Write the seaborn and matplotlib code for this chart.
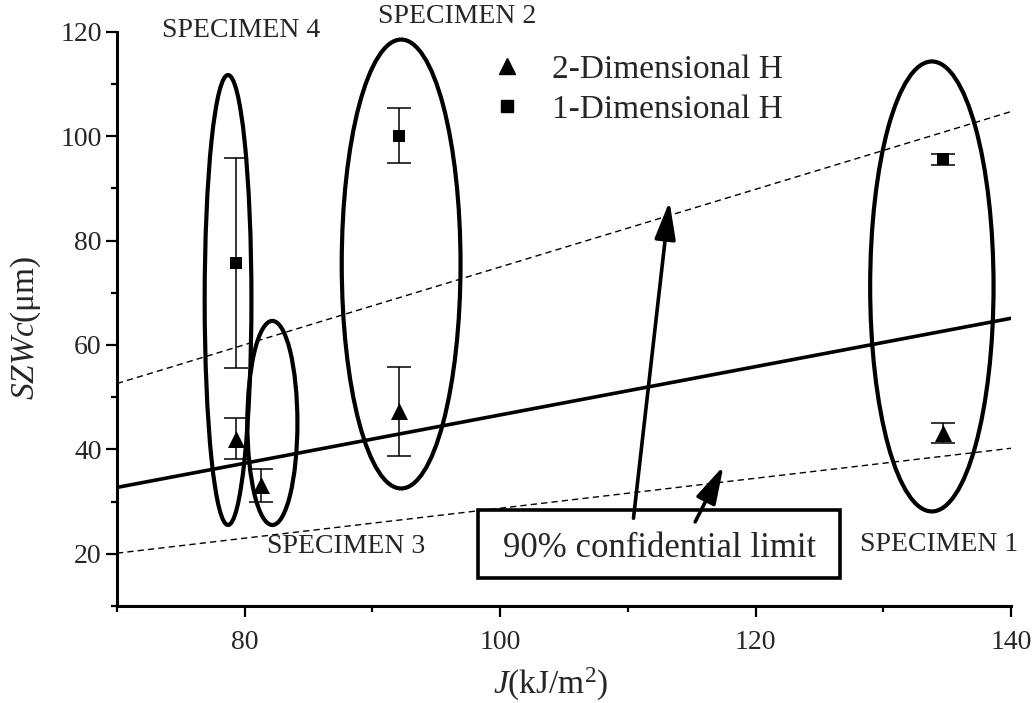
import numpy as np
import pandas as pd
import matplotlib
matplotlib.use("Agg")
import matplotlib.pyplot as plt
import seaborn as sns
from matplotlib.patches import Ellipse, Rectangle
from matplotlib.lines import Line2D

# ---------------- data ----------------
# 1-Dimensional H (squares)
h1_x = [79.3, 92.1, 134.7]
h1_y = [75.7, 100.1, 95.6]
h1_err = [20.1, 5.3, 1.05]
# 2-Dimensional H (triangles)
h2_x = [79.3, 81.3, 92.1, 134.7]
h2_y = [42.0, 33.1, 47.3, 43.2]
h2_err = [3.95, 3.1, 8.5, 1.9]

# regression line and 90% confidence limits (end points)
line_x = [70, 140]
fit_y = [32.7, 65.1]
upper_y = [52.6, 104.7]
lower_y = [20.1, 40.2]

# specimen groups: centre x, centre y, width, height
spec_names = ["SPECIMEN 1", "SPECIMEN 2", "SPECIMEN 3", "SPECIMEN 4"]
ell_cx = [133.8, 92.25, 82.17, 78.7]
ell_cy = [71.2, 75.5, 45.05, 68.6]
ell_w = [9.66, 9.3, 3.92, 3.66]
ell_h = [86.2, 86.0, 39.1, 86.2]
lab_x = [134.36, 96.67, 87.93, 79.73]
lab_y = [20.5, 121.6, 20.08, 119.0]

x_ticks = [80, 100, 120, 140]
y_ticks = [20, 40, 60, 80, 100, 120]

# ---------------- style ----------------
sns.set_style("ticks")
plt.rcParams["font.family"] = ["Liberation Serif", "DejaVu Serif"]
plt.rcParams["mathtext.fontset"] = "custom"
plt.rcParams["mathtext.rm"] = "Liberation Serif"
plt.rcParams["mathtext.it"] = "Liberation Serif:italic"

fig = plt.figure(figsize=(10.32, 7.03), dpi=100)
ax = fig.add_axes([0.1133, 0.1381, 0.8664, 0.8168])

# regression line + confidence limits
df_lines = pd.DataFrame({"x": line_x, "fit": fit_y, "up": upper_y, "lo": lower_y})
sns.lineplot(data=df_lines, x="x", y="fit", ax=ax, color="black", lw=2.6, zorder=2)
sns.lineplot(data=df_lines, x="x", y="up", ax=ax, color="black", lw=1.0,
             linestyle=(0, (4.5, 3)), zorder=2)
sns.lineplot(data=df_lines, x="x", y="lo", ax=ax, color="black", lw=1.0,
             linestyle=(0, (4.5, 3)), zorder=2)

# error bars
ax.errorbar(h1_x, h1_y, yerr=h1_err, fmt="none", ecolor="black",
            elinewidth=1.1, capsize=8.5, capthick=1.1, zorder=3)
ax.errorbar(h2_x, h2_y, yerr=h2_err, fmt="none", ecolor="black",
            elinewidth=1.1, capsize=8.5, capthick=1.1, zorder=3)

# points
df1 = pd.DataFrame({"x": h1_x, "y": h1_y})
df2 = pd.DataFrame({"x": h2_x, "y": h2_y})
sns.scatterplot(data=df2, x="x", y="y", ax=ax, marker="^", s=150,
                color="black", edgecolor="black", linewidth=0, zorder=4, legend=False)
sns.scatterplot(data=df1, x="x", y="y", ax=ax, marker="s", s=64,
                color="black", edgecolor="black", linewidth=0, zorder=4, legend=False)

# ellipses and labels
for cx, cy, w, h in zip(ell_cx, ell_cy, ell_w, ell_h):
    ax.add_patch(Ellipse((cx, cy), w, h, fill=False, ec="black", lw=3.0, zorder=5))
for name, lx, ly in zip(spec_names, lab_x, lab_y):
    ax.text(lx, ly, name, ha="center", va="baseline", fontsize=20, clip_on=False)

# confidence-limit box and arrows
ax.add_patch(Rectangle((98.3, 15.4), 28.3, 13.0, fc="white", ec="black", lw=2.6, zorder=6))
ax.text(112.45, 19.3, "90% confidential limit", ha="center", va="baseline",
        fontsize=25, zorder=7)
arrow_kw = dict(arrowstyle="-|>,head_length=1.15,head_width=0.32", color="black",
                lw=2.6, mutation_scale=20, shrinkA=0, shrinkB=0)
ax.annotate("", xy=(113.26, 87.5), xytext=(110.44, 26.8),
            arrowprops=arrow_kw, zorder=8)
ax.annotate("", xy=(117.49, 36.8), xytext=(115.27, 26.1),
            arrowprops=arrow_kw, zorder=8)

# axes
ax.set_xlim(70, 140)
ax.set_ylim(10, 120)
ax.set_xticks(x_ticks)
ax.set_yticks(y_ticks)
ax.set_xticks([70, 90, 110, 130], minor=True)
ax.set_yticks([10, 30, 50, 70, 90, 110], minor=True)
ax.tick_params(which="major", length=8, width=1.6, labelsize=20, color="black")
ax.tick_params(which="minor", length=4, width=1.6, color="black")
ax.tick_params(axis="x", which="major", pad=9)
ax.tick_params(axis="y", which="major", pad=3)
sns.despine(ax=ax)
for sp in ("left", "bottom"):
    ax.spines[sp].set_linewidth(2.2)
    ax.spines[sp].set_color("black")
ax.grid(False)

ax.set_xlabel("$J$(kJ/m$^2$)", fontsize=24)
ax.set_ylabel("$SZWc$(μm)", fontsize=24)
ax.xaxis.set_label_coords(0.4855, -0.105)
ax.yaxis.set_label_coords(-0.083, 0.484)

# legend
handles = [Line2D([], [], marker="^", color="black", ls="none", markersize=12),
           Line2D([], [], marker="s", color="black", ls="none", markersize=8)]
fig.legend(handles, ["2-Dimensional H", "1-Dimensional H"], loc="upper left",
           bbox_to_anchor=(490 / 1032, 1 - 54 / 703), frameon=False, fontsize=24,
           handlelength=1.0, handletextpad=0.85, labelspacing=0.3,
           borderpad=0, borderaxespad=0)

fig.savefig("out.png", dpi=100)
